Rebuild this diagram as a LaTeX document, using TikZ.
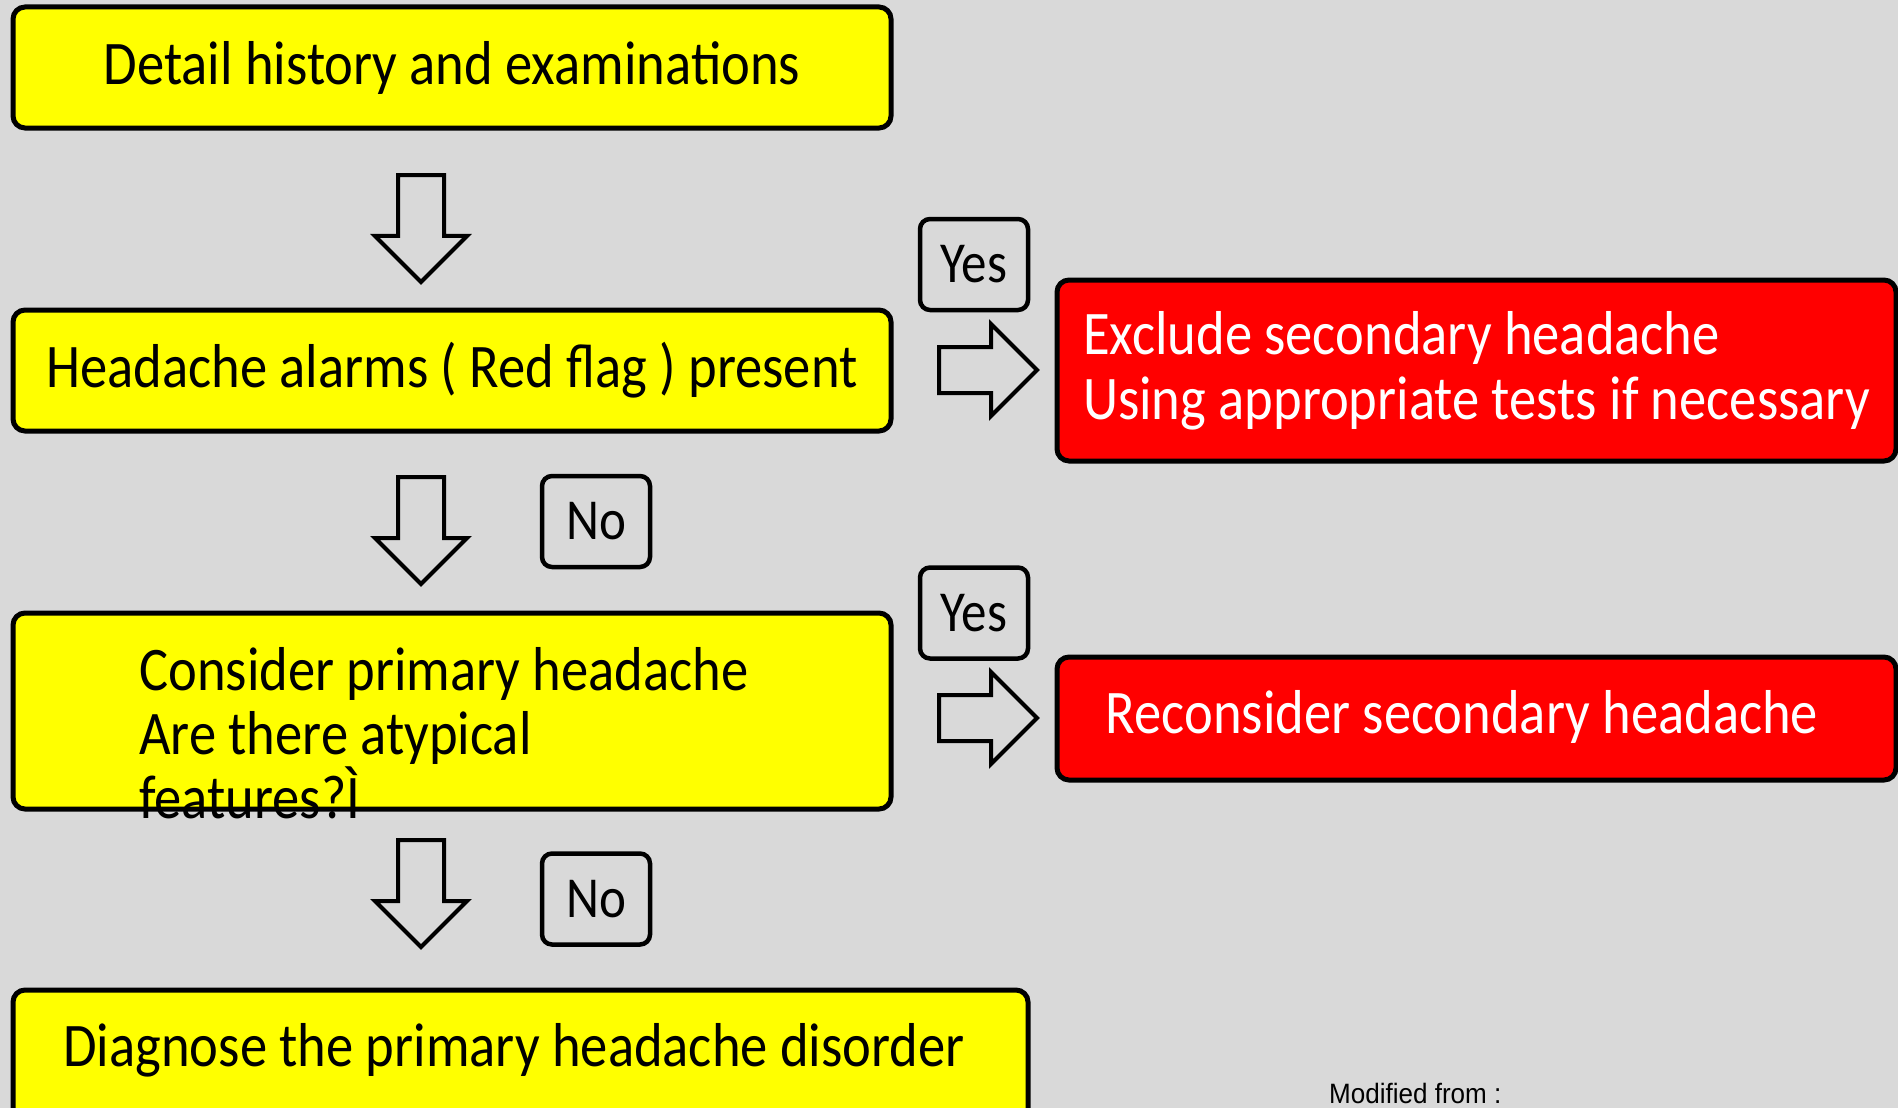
\documentclass[tikz,border=0pt]{standalone}
\usepackage{fontspec}
\setmainfont[FakeStretch=0.88]{Carlito}
\newfontfamily\notefont[FakeStretch=0.93]{Liberation Sans}
\usetikzlibrary{shapes.arrows}
\definecolor{pagegray}{HTML}{D9D9D9}
\definecolor{flagyellow}{HTML}{FFFF00}
\definecolor{flagred}{HTML}{FF0000}
\tikzset{
  stepbox/.style={draw, line width=5pt, rounded corners=12pt, fill=flagyellow,
    inner sep=0pt, align=center, font=\fontsize{62}{65}\selectfont},
  alarmbox/.style={stepbox, fill=flagred, text=white},
  answerbox/.style={draw, line width=4.5pt, rounded corners=10pt, fill=pagegray,
    minimum width=108pt, minimum height=91pt, inner sep=0pt,
    font=\fontsize{58}{60}\selectfont},
  blockarrow/.style={single arrow, draw, line width=4pt, fill=pagegray,
    minimum width=88pt, minimum height=107pt, inner sep=21pt,
    single arrow head extend=23pt, anchor=tail}
}
\begin{document}
\begin{tikzpicture}[x=1pt,y=-1pt]
  \useasboundingbox (0,0) rectangle (1898,1108);
  \fill[pagegray] (0,0) rectangle (1898,1108);
  % left column
  \node[stepbox, minimum width=878pt, minimum height=121pt] (history) at (452,67.5) {Detail history and examinations};
  \node[stepbox, minimum width=878pt, minimum height=121pt] (alarms) at (452,370.5) {Headache alarms ( Red flag ) present};
  \node[stepbox, minimum width=878pt, minimum height=196pt] (consider) at (452,711) {};
  \node[anchor=west, align=left, inner sep=0pt, font=\fontsize{62}{64}\selectfont] (considertext) at (139,733)
    {Consider primary headache\\Are there atypical\\features?Ì};
  \node[stepbox, minimum width=1015pt, minimum height=150pt] (diagnose) at (520.5,1065) {};
  \node[font=\fontsize{62}{65}\selectfont, inner sep=0pt] (diagnosetext) at (514,1050) {Diagnose the primary headache disorder};
  % right column
  \node[alarmbox, minimum width=839pt, minimum height=181pt, align=left] (exclude) at (1476.5,370.5)
    {Exclude secondary headache\\Using appropriate tests if necessary};
  \node[alarmbox, minimum width=839pt, minimum height=123pt] (reconsider) at (1476.5,718.5) {};
  \node[font=\fontsize{62}{65}\selectfont, text=white, inner sep=0pt] (reconsidertext) at (1462,717) {Reconsider secondary headache};
  % answers
  \node[answerbox] (yesalarm) at (974,264.5) {Yes};
  \node[answerbox] (yesatypical) at (974,613) {Yes};
  \node[answerbox] (noalarm) at (596,521.5) {No};
  \node[answerbox] (noatypical) at (596,899) {No};
  % block arrows
  \node[blockarrow, rotate=-90] (downone) at (421,173) {};
  \node[blockarrow, rotate=-90] (downtwo) at (421,475) {};
  \node[blockarrow, rotate=-90] (downthree) at (421,838) {};
  \node[blockarrow, minimum height=98pt] (rightone) at (937,370) {};
  \node[blockarrow, minimum height=98pt] (righttwo) at (937,718) {};
  \node[anchor=west, inner sep=0pt, font=\notefont\fontsize{28}{30}\selectfont] (source) at (1329,1093) {Modified from :};
\end{tikzpicture}
\end{document}
